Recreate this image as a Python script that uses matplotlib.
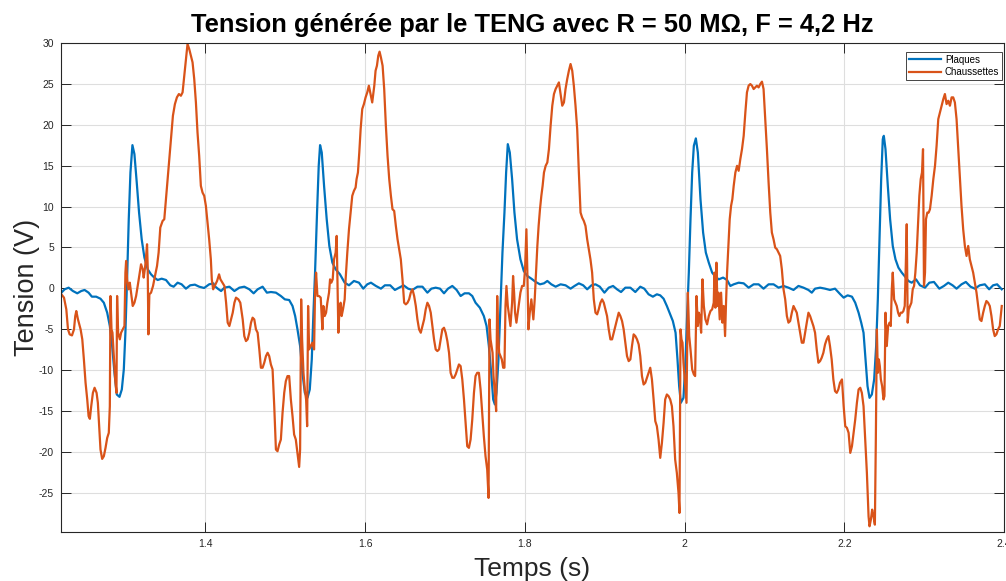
import numpy as np
import matplotlib.pyplot as plt

# (time in s, voltage in V)
plaques = [
    (1.2195, -0.53), (1.2236, -0.12), (1.2286, 0.08), (1.2340, -0.33), (1.2394, -0.61),
    (1.2444, -0.33), (1.2486, -0.20), (1.2536, -0.53), (1.2577, -1.02), (1.2631, -1.02),
    (1.2685, -1.27), (1.2727, -1.76), (1.2769, -2.98), (1.2802, -4.61), (1.2831, -7.06),
    (1.2860, -10.33), (1.2889, -12.98), (1.2923, -13.27), (1.2952, -12.37), (1.2977, -9.92),
    (1.2997, -5.43), (1.3018, 1.10), (1.3039, 8.45), (1.3060, 14.16), (1.3085, 17.51),
    (1.3110, 16.41), (1.3139, 12.94), (1.3168, 9.27), (1.3201, 6.00), (1.3235, 3.76),
    (1.3276, 2.33), (1.3318, 1.71), (1.3359, 1.31), (1.3401, 1.02), (1.3451, 1.18),
    (1.3505, 1.02), (1.3559, 0.37), (1.3601, 0.20), (1.3651, 0.69), (1.3701, 0.49),
    (1.3755, -0.04), (1.3809, 0.37), (1.3867, 0.45), (1.3921, 0.20), (1.3983, 0.04),
    (1.4046, 0.49), (1.4100, 0.61),
    (1.4112, 0.29), (1.4154, -0.04), (1.4195, -0.33), (1.4237, 0.08), (1.4299, 0.20),
    (1.4362, -0.33), (1.4424, 0.08), (1.4486, 0.20), (1.4549, -0.12), (1.4603, -0.61),
    (1.4653, -0.12), (1.4715, 0.20), (1.4769, -0.53), (1.4819, -0.45), (1.4882, -0.53),
    (1.4944, -0.94), (1.4994, -1.35), (1.5048, -1.43), (1.5090, -2.16), (1.5123, -3.39),
    (1.5152, -5.02), (1.5185, -7.06), (1.5214, -10.33), (1.5244, -12.78), (1.5277, -13.39),
    (1.5306, -12.37), (1.5331, -8.69), (1.5352, -2.98), (1.5372, 1.92), (1.5397, 9.27),
    (1.5418, 14.98), (1.5435, 17.51), (1.5456, 16.61), (1.5485, 12.53), (1.5518, 8.45),
    (1.5551, 5.18), (1.5589, 3.14), (1.5630, 2.33), (1.5684, 1.71), (1.5743, 0.69),
    (1.5797, 0.37), (1.5859, 0.90), (1.5922, 0.69), (1.5976, -0.04), (1.6026, 0.49),
    (1.6072, 0.69), (1.6134, 0.29), (1.6197, -0.04), (1.6247, 0.37), (1.6313, 0.37),
    (1.6372, -0.20), (1.6426, 0.08), (1.6480, 0.37), (1.6538, -0.04), (1.6592, -0.20),
    (1.6654, 0.20), (1.6717, 0.20), (1.6779, -0.53), (1.6829, -0.04), (1.6883, 0.08),
    (1.6937, -0.04), (1.6987, -0.61), (1.7037, -0.04), (1.7091, 0.29), (1.7145, -0.20),
    (1.7195, -0.94), (1.7245, -0.61), (1.7299, -0.61), (1.7341, -0.94), (1.7382, -1.76),
    (1.7436, -2.37), (1.7486, -3.39), (1.7520, -4.61), (1.7549, -7.06), (1.7578, -10.33),
    (1.7603, -13.59), (1.7624, -14.20), (1.7644, -12.78), (1.7669, -8.69), (1.7694, -2.16),
    (1.7719, 4.37), (1.7744, 9.27), (1.7765, 14.16), (1.7786, 17.63), (1.7811, 16.61),
    (1.7840, 13.35), (1.7869, 9.27), (1.7902, 6.00), (1.7944, 3.55), (1.7986, 2.12),
    (1.8031, 1.51), (1.8081, 1.18), (1.8135, 0.78), (1.8189, 0.49), (1.8239, 0.61),
    (1.8281, 0.90), (1.8331, 0.49), (1.8385, 0.20), (1.8447, 0.49), (1.8509, 0.37),
    (1.8572, -0.04), (1.8622, 0.29), (1.8676, 0.61), (1.8730, 0.37), (1.8780, -0.12),
    (1.8834, 0.37), (1.8884, 0.49), (1.8938, 0.20), (1.8996, -0.53), (1.9050, 0.08),
    (1.9104, 0.29), (1.9154, -0.12), (1.9204, -0.45), (1.9258, 0.08), (1.9321, 0.08),
    (1.9383, -0.45), (1.9445, 0.20), (1.9495, -0.04), (1.9549, -0.73), (1.9603, -1.02),
    (1.9653, -0.73), (1.9695, -0.86), (1.9737, -1.27), (1.9778, -2.16), (1.9820, -3.18),
    (1.9853, -4.00), (1.9887, -5.43), (1.9911, -8.69), (1.9932, -11.96), (1.9953, -14.00),
    (1.9986, -13.39),
    (2.0012, -8.69), (2.0033, -2.98), (2.0053, 1.92), (2.0074, 8.45), (2.0095, 14.16),
    (2.0116, 17.43), (2.0141, 18.33), (2.0166, 16.61), (2.0199, 10.90), (2.0232, 6.82),
    (2.0266, 4.37), (2.0303, 3.14), (2.0345, 1.92), (2.0386, 1.43), (2.0428, 1.10),
    (2.0482, 1.31), (2.0532, 1.02), (2.0573, 0.29), (2.0615, 0.49), (2.0677, 0.69),
    (2.0740, 0.61), (2.0802, 0.08), (2.0865, 0.49), (2.0927, 0.49), (2.0989, -0.04),
    (2.1052, 0.49), (2.1114, 0.49), (2.1177, 0.08), (2.1239, 0.29), (2.1301, 0.08),
    (2.1364, -0.20), (2.1426, 0.29), (2.1489, 0.08), (2.1551, -0.20), (2.1593, -0.53),
    (2.1634, -0.04), (2.1697, 0.08), (2.1759, -0.04), (2.1821, -0.20), (2.1884, -0.04),
    (2.1950, -0.73), (2.1992, -1.14), (2.2042, -0.86), (2.2096, -1.02), (2.2137, -1.76),
    (2.2179, -2.98), (2.2212, -4.20), (2.2241, -5.43), (2.2266, -8.69), (2.2291, -11.96),
    (2.2316, -13.39), (2.2345, -12.98), (2.2374, -11.14), (2.2399, -7.06), (2.2420, -1.35),
    (2.2441, 6.00), (2.2462, 13.35), (2.2482, 18.24), (2.2495, 18.65), (2.2516, 17.02),
    (2.2545, 12.53), (2.2574, 8.45), (2.2607, 5.18), (2.2641, 3.55), (2.2678, 2.53),
    (2.2720, 1.92), (2.2761, 1.43), (2.2803, 0.90), (2.2844, 0.69), (2.2898, 1.10),
    (2.2948, 0.37), (2.3011, 0.08), (2.3065, 0.69), (2.3123, 0.78), (2.3190, -0.04),
    (2.3248, 0.29), (2.3302, 0.69), (2.3356, 0.37), (2.3406, -0.04), (2.3468, 0.49),
    (2.3522, 0.78), (2.3581, 0.20), (2.3635, -0.04), (2.3697, 0.37), (2.3760, 0.49),
    (2.3814, -0.12), (2.3864, 0.37), (2.3914, 0.49), (2.3972, -0.12),
]

chaussettes = [
    (1.2195, -0.73), (1.2228, -1.14), (1.2257, -2.57), (1.2278, -5.02), (1.2299, -5.63),
    (1.2328, -5.76), (1.2353, -5.02), (1.2369, -3.39), (1.2382, -2.78), (1.2403, -3.80),
    (1.2436, -5.02), (1.2457, -6.24), (1.2477, -8.69), (1.2498, -11.55), (1.2519, -13.59),
    (1.2536, -15.63), (1.2552, -15.96), (1.2569, -14.41), (1.2590, -12.78), (1.2611, -12.16),
    (1.2636, -12.78), (1.2652, -14.00), (1.2669, -16.86), (1.2685, -19.71), (1.2706, -20.86),
    (1.2727, -20.53), (1.2748, -19.51), (1.2769, -18.29), (1.2789, -17.67), (1.2802, -14.41),
    (1.2810, -0.94), (1.2823, -5.02), (1.2835, -5.43), (1.2852, -8.29), (1.2869, -11.14),
    (1.2885, -12.78), (1.2893, -0.94), (1.2906, -5.43), (1.2927, -6.24), (1.2943, -5.43),
    (1.2964, -5.02), (1.2985, -4.61), (1.2997, 1.92), (1.3006, 3.35), (1.3018, 1.10),
    (1.3035, -0.12), (1.3052, 0.69), (1.3068, -0.53), (1.3089, -2.16), (1.3110, -1.76),
    (1.3131, -0.94), (1.3151, 0.29), (1.3176, 1.92), (1.3193, 2.94), (1.3214, 2.33),
    (1.3226, 1.31), (1.3243, 2.53), (1.3260, 4.37), (1.3268, 5.39), (1.3276, 2.73),
    (1.3285, -5.63), (1.3297, -0.73), (1.3318, -0.53), (1.3343, 0.29), (1.3359, 1.10),
    (1.3376, 1.92), (1.3393, 2.73), (1.3413, 4.37), (1.3434, 7.43), (1.3463, 8.24),
    (1.3484, 8.45), (1.3505, 10.90), (1.3526, 13.35), (1.3551, 16.20), (1.3567, 18.24),
    (1.3592, 21.10), (1.3617, 22.53), (1.3642, 23.35), (1.3667, 23.76), (1.3692, 23.55),
    (1.3713, 23.96), (1.3734, 26.00), (1.3755, 28.04), (1.3775, 29.88), (1.3796, 29.27),
    (1.3817, 28.45), (1.3838, 27.63), (1.3859, 25.59), (1.3880, 22.73), (1.3900, 19.06),
    (1.3921, 16.20), (1.3942, 12.53), (1.3963, 11.71), (1.3984, 11.31), (1.4005, 10.08),
    (1.4025, 8.04), (1.4046, 6.00), (1.4067, 3.55), (1.4079, 1.10), (1.4096, -0.12),
    (1.4145, 0.90), (1.4170, 1.71), (1.4187, 1.10), (1.4212, 0.69), (1.4237, 0.29),
    (1.4258, -1.76), (1.4278, -4.20), (1.4299, -4.61), (1.4320, -3.80), (1.4341, -2.98),
    (1.4362, -1.76), (1.4382, -1.14), (1.4412, -1.35), (1.4436, -1.76), (1.4466, -3.80),
    (1.4486, -5.84), (1.4507, -6.45), (1.4528, -6.24), (1.4549, -5.43), (1.4570, -4.20),
    (1.4590, -3.59), (1.4611, -3.80), (1.4632, -5.02), (1.4653, -5.43), (1.4674, -7.47),
    (1.4694, -9.71), (1.4715, -9.71), (1.4736, -9.10), (1.4757, -8.29), (1.4778, -7.88),
    (1.4798, -8.29), (1.4819, -9.31), (1.4840, -9.92), (1.4861, -14.41), (1.4882, -19.71),
    (1.4902, -19.92), (1.4923, -19.10), (1.4944, -18.49), (1.4965, -15.22), (1.4986, -12.78),
    (1.5006, -11.35), (1.5027, -10.73), (1.5048, -10.73), (1.5069, -13.59), (1.5090, -15.63),
    (1.5110, -17.88), (1.5131, -18.49), (1.5152, -20.12), (1.5173, -21.84), (1.5185, -19.71),
    (1.5198, -1.35), (1.5210, -6.24), (1.5227, -10.33), (1.5244, -12.37), (1.5260, -13.59),
    (1.5273, -16.86), (1.5285, -2.16), (1.5298, -7.47), (1.5318, -7.06), (1.5339, -6.65),
    (1.5360, -7.47), (1.5372, -0.53), (1.5385, 1.92), (1.5402, -0.94), (1.5422, -0.94),
    (1.5443, -1.14), (1.5464, -5.02), (1.5476, -2.16), (1.5493, -3.39), (1.5510, -2.98),
    (1.5526, -1.76), (1.5547, -0.53), (1.5560, 1.10), (1.5576, 0.69), (1.5593, 1.10),
    (1.5610, 3.55), (1.5630, 4.37), (1.5643, 6.41), (1.5651, 1.92), (1.5664, -5.43),
    (1.5680, -2.16), (1.5693, -1.76), (1.5705, -3.39), (1.5722, -2.57), (1.5743, -1.35),
    (1.5755, 1.10), (1.5776, 4.37), (1.5797, 7.22), (1.5818, 9.27), (1.5838, 11.31),
    (1.5859, 11.92), (1.5880, 12.33), (1.5892, 13.35), (1.5909, 14.16), (1.5926, 16.61),
    (1.5943, 19.47), (1.5963, 21.92), (1.5984, 22.53), (1.6005, 23.35), (1.6026, 23.96),
    (1.6046, 24.78), (1.6067, 23.76), (1.6088, 22.73),
    (1.6114, 24.78), (1.6130, 26.61), (1.6147, 27.22), (1.6164, 28.45), (1.6180, 28.94),
    (1.6197, 28.24), (1.6218, 27.22), (1.6238, 24.37), (1.6259, 19.88), (1.6280, 16.20),
    (1.6301, 13.35), (1.6322, 11.31), (1.6342, 9.67), (1.6363, 9.47), (1.6384, 7.63),
    (1.6405, 6.00), (1.6426, 4.78), (1.6446, 3.55), (1.6467, 1.10), (1.6488, -1.76),
    (1.6509, -1.96), (1.6530, -1.76), (1.6550, -1.35), (1.6571, -0.53), (1.6592, -0.12),
    (1.6613, -0.94), (1.6634, -2.16), (1.6654, -3.80), (1.6675, -5.02), (1.6696, -5.43),
    (1.6717, -4.61), (1.6738, -3.80), (1.6758, -2.57), (1.6779, -1.76), (1.6800, -2.16),
    (1.6821, -2.98), (1.6842, -4.61), (1.6862, -6.24), (1.6883, -7.47), (1.6904, -7.67),
    (1.6925, -7.47), (1.6946, -6.24), (1.6966, -5.02), (1.6987, -4.82), (1.7008, -5.43),
    (1.7029, -6.45), (1.7050, -7.88), (1.7070, -10.33), (1.7091, -10.94), (1.7112, -10.94),
    (1.7133, -10.53), (1.7154, -9.92), (1.7174, -9.31), (1.7195, -9.51), (1.7216, -11.14),
    (1.7237, -13.59), (1.7258, -16.45), (1.7278, -19.31), (1.7299, -19.51), (1.7320, -18.49),
    (1.7341, -16.04), (1.7362, -12.78), (1.7382, -10.73), (1.7403, -10.33), (1.7424, -10.33),
    (1.7445, -12.37), (1.7466, -15.22), (1.7486, -18.08), (1.7507, -20.53), (1.7528, -22.16),
    (1.7545, -25.63), (1.7557, -3.80), (1.7570, -6.24), (1.7582, -7.06), (1.7595, -7.88),
    (1.7607, -10.73), (1.7624, -12.78), (1.7640, -15.02), (1.7653, -0.94), (1.7665, -5.43),
    (1.7678, -7.88), (1.7694, -8.29), (1.7711, -8.69), (1.7728, -9.71), (1.7744, -9.71),
    (1.7757, -2.16), (1.7769, 0.29), (1.7786, -2.16), (1.7803, -3.39), (1.7819, -4.61),
    (1.7840, -1.76), (1.7852, 1.51), (1.7865, -0.53), (1.7877, -2.98), (1.7894, -4.20),
    (1.7911, -2.98), (1.7927, -1.76), (1.7944, -0.53), (1.7965, 0.29), (1.7986, 0.29),
    (1.8002, 2.33), (1.8019, 7.22), (1.8031, 1.92), (1.8044, -5.02), (1.8061, -2.98),
    (1.8081, -1.35),
    (1.8089, -2.16), (1.8106, -3.80), (1.8123, -1.35), (1.8139, 1.92), (1.8156, 5.18),
    (1.8172, 7.63), (1.8189, 9.67), (1.8206, 11.31), (1.8222, 12.53), (1.8239, 14.16),
    (1.8260, 14.98), (1.8281, 15.39), (1.8301, 17.02), (1.8322, 19.88), (1.8343, 22.33),
    (1.8364, 23.76), (1.8385, 24.37), (1.8405, 24.78), (1.8426, 25.18), (1.8447, 23.76),
    (1.8468, 22.33), (1.8489, 22.73), (1.8509, 24.37), (1.8530, 25.59), (1.8551, 26.61),
    (1.8572, 27.43), (1.8593, 26.61), (1.8613, 24.78), (1.8634, 22.33), (1.8655, 19.47),
    (1.8676, 14.16), (1.8697, 9.27), (1.8717, 8.65), (1.8738, 8.24), (1.8759, 7.63),
    (1.8780, 6.00), (1.8801, 4.78), (1.8821, 3.55), (1.8842, 1.92), (1.8863, -1.35),
    (1.8884, -2.98), (1.8905, -3.18), (1.8925, -2.57), (1.8946, -1.76), (1.8967, -1.35),
    (1.8988, -1.76), (1.9009, -2.57), (1.9029, -3.39), (1.9050, -5.02), (1.9071, -6.24),
    (1.9092, -6.24), (1.9113, -5.43), (1.9133, -4.61), (1.9154, -3.80), (1.9175, -2.98),
    (1.9196, -3.39), (1.9217, -4.00), (1.9237, -5.02), (1.9258, -6.65), (1.9279, -8.29),
    (1.9300, -8.90), (1.9321, -8.69), (1.9341, -7.06), (1.9362, -5.63), (1.9383, -5.84),
    (1.9404, -6.24), (1.9425, -6.86), (1.9445, -8.29), (1.9466, -10.73), (1.9487, -11.76),
    (1.9508, -11.55), (1.9529, -10.94), (1.9549, -10.33), (1.9570, -9.71), (1.9591, -11.14),
    (1.9612, -13.59), (1.9633, -16.24), (1.9653, -16.86), (1.9674, -18.49), (1.9695, -20.73),
    (1.9716, -18.90), (1.9737, -16.45), (1.9757, -13.59), (1.9778, -12.98), (1.9799, -13.18),
    (1.9820, -13.59), (1.9841, -14.41), (1.9861, -16.86), (1.9882, -20.94), (1.9903, -22.57),
    (1.9924, -25.02), (1.9936, -27.47), (1.9949, -5.02), (1.9961, -6.24), (1.9974, -6.65),
    (1.9986, -9.10),
    (2.0024, -14.00), (2.0041, -0.53), (2.0058, -5.84), (2.0074, -7.47), (2.0095, -9.92),
    (2.0116, -10.53), (2.0132, -10.73), (2.0149, -0.94), (2.0166, -4.61), (2.0178, -2.98),
    (2.0191, -3.39), (2.0207, -5.43), (2.0224, 1.10), (2.0241, -2.16), (2.0261, -3.80),
    (2.0282, -4.41), (2.0303, -3.39), (2.0324, -2.78), (2.0345, -2.57), (2.0365, -1.76),
    (2.0374, 1.92), (2.0386, -2.37), (2.0399, 3.14), (2.0411, -2.16), (2.0424, -0.53),
    (2.0440, -3.80), (2.0457, -0.53), (2.0474, -4.20), (2.0490, -2.16), (2.0507, -5.84),
    (2.0519, -1.76), (2.0532, 1.92), (2.0549, 5.18), (2.0565, 8.45), (2.0582, 10.08),
    (2.0598, 10.90), (2.0615, 12.53), (2.0636, 14.16), (2.0657, 14.98), (2.0677, 14.37),
    (2.0698, 15.80), (2.0719, 17.02), (2.0740, 18.65), (2.0761, 21.51), (2.0781, 23.96),
    (2.0802, 24.78), (2.0823, 24.98), (2.0844, 24.78), (2.0865, 24.37), (2.0885, 24.57),
    (2.0906, 24.78), (2.0927, 24.57), (2.0948, 24.98), (2.0969, 25.27), (2.0989, 24.37),
    (2.1010, 20.69), (2.1031, 17.02), (2.1052, 12.94), (2.1073, 9.27), (2.1093, 6.82),
    (2.1114, 6.00), (2.1135, 4.98), (2.1156, 4.78), (2.1177, 4.37), (2.1197, 3.96),
    (2.1218, 2.33), (2.1239, -0.12), (2.1260, -1.35), (2.1281, -3.39), (2.1301, -4.20),
    (2.1322, -4.00), (2.1343, -2.98), (2.1364, -2.16), (2.1385, -2.57), (2.1405, -2.98),
    (2.1426, -4.20), (2.1447, -5.43), (2.1468, -6.65), (2.1489, -6.65), (2.1509, -5.43),
    (2.1530, -4.20), (2.1551, -2.98), (2.1572, -3.39), (2.1593, -4.00), (2.1613, -4.61),
    (2.1634, -5.43), (2.1655, -7.47), (2.1676, -9.10), (2.1697, -8.90), (2.1717, -8.49),
    (2.1738, -7.88), (2.1759, -6.86), (2.1780, -6.24), (2.1801, -5.84), (2.1821, -7.06),
    (2.1842, -8.69), (2.1863, -11.14), (2.1884, -12.57), (2.1905, -12.78), (2.1925, -12.37),
    (2.1946, -11.55),
    (2.1971, -11.14), (2.1992, -14.41), (2.2012, -16.86), (2.2033, -17.06), (2.2054, -17.67),
    (2.2075, -20.12), (2.2096, -19.31), (2.2116, -17.67), (2.2137, -16.04), (2.2158, -14.00),
    (2.2179, -12.37), (2.2200, -12.16), (2.2220, -12.78), (2.2241, -14.41), (2.2262, -18.49),
    (2.2283, -22.57), (2.2304, -27.88), (2.2316, -29.10), (2.2333, -28.29), (2.2349, -27.06),
    (2.2366, -27.88), (2.2383, -28.90), (2.2395, -18.49), (2.2408, -5.02), (2.2420, -10.33),
    (2.2433, -8.69), (2.2445, -9.51), (2.2458, -11.14), (2.2474, -11.96), (2.2491, -13.59),
    (2.2503, -13.18), (2.2516, -2.98), (2.2532, -7.06), (2.2549, -4.61), (2.2566, -4.20),
    (2.2582, -4.61), (2.2595, -0.12), (2.2607, 1.92), (2.2624, -1.35), (2.2641, -1.76),
    (2.2657, -2.16), (2.2674, -2.98), (2.2690, -3.39), (2.2707, -2.98), (2.2724, -2.98),
    (2.2740, -2.78), (2.2757, -2.16), (2.2770, 2.73), (2.2782, 7.84), (2.2794, -4.20),
    (2.2807, -2.57), (2.2824, -2.16), (2.2840, -1.76), (2.2857, -0.12), (2.2874, 0.29),
    (2.2890, 1.92), (2.2907, 4.37), (2.2923, 7.63), (2.2940, 11.31), (2.2957, 13.35),
    (2.2973, 14.16), (2.2986, 17.02), (2.2998, 0.29), (2.3011, 1.92), (2.3023, 8.45),
    (2.3040, 9.27), (2.3057, 9.27), (2.3073, 9.67), (2.3094, 11.31), (2.3115, 13.35),
    (2.3136, 14.98), (2.3156, 17.43), (2.3177, 20.69), (2.3198, 21.51), (2.3219, 22.33),
    (2.3240, 23.14), (2.3260, 23.76), (2.3281, 22.53), (2.3302, 22.94), (2.3323, 22.33),
    (2.3344, 23.35), (2.3364, 23.35), (2.3385, 22.73), (2.3406, 20.69), (2.3427, 17.02),
    (2.3448, 13.35), (2.3468, 10.08), (2.3489, 7.22), (2.3510, 5.18), (2.3531, 3.96),
    (2.3552, 5.18), (2.3572, 3.55), (2.3593, 2.73), (2.3614, 1.92), (2.3635, 0.69),
    (2.3656, -0.53), (2.3676, -2.16), (2.3697, -3.80), (2.3718, -4.00), (2.3739, -2.98),
    (2.3760, -2.16), (2.3780, -1.55), (2.3801, -1.76), (2.3822, -2.16), (2.3843, -3.39),
    (2.3864, -5.02), (2.3884, -5.84), (2.3905, -5.63), (2.3926, -5.02), (2.3947, -4.61),
    (2.3972, -2.16),
]

series_names = ['Plaques', 'Chaussettes']
x_ticks = [1.4, 1.6, 1.8, 2.0, 2.2, 2.4]
x_tick_labels = ['1.4', '1.6', '1.8', '2', '2.2', '2.4']
y_ticks = [-25, -20, -15, -10, -5, 0, 5, 10, 15, 20, 25, 30]

plt.rcParams['font.family'] = ['Liberation Sans', 'DejaVu Sans']
plt.rcParams['axes.unicode_minus'] = False

fig = plt.figure(figsize=(10.06, 5.81), dpi=100)
ax = fig.add_axes([0.0606, 0.0843, 0.9374, 0.8417])

p = np.array(plaques)
c = np.array(chaussettes)
ax.plot(p[:, 0], p[:, 1], color='#0072BD', lw=1.6, label=series_names[0])
ax.plot(c[:, 0], c[:, 1], color='#D95319', lw=1.6, label=series_names[1])

ax.set_xlim(1.219, 2.4)
ax.set_ylim(-29.8, 30)
ax.set_xticks(x_ticks)
ax.set_xticklabels(x_tick_labels)
ax.set_yticks(y_ticks)
ax.grid(True, color='#dedede', lw=0.8)
ax.set_axisbelow(True)

ax.tick_params(direction='in', top=True, right=True, length=7, width=0.7,
               colors='#262626', labelsize=7.5, pad=5)
for s in ax.spines.values():
    s.set_color('#262626')
    s.set_linewidth(0.8)

ax.set_title('Tension générée par le TENG avec R = 50 MΩ, F = 4,2 Hz',
             fontsize=18.4, fontweight='bold', pad=8)
ax.set_xlabel('Temps (s)', fontsize=19, color='#262626', labelpad=6)
ax.set_ylabel('Tension (V)', fontsize=19.5, color='#262626', labelpad=-1)

leg = ax.legend(loc='upper right', bbox_to_anchor=(0.998, 0.982), borderaxespad=0,
                fontsize=7, handlelength=3.3, handletextpad=0.4, borderpad=0.3,
                labelspacing=0.25, fancybox=False, framealpha=1, edgecolor='#262626')
leg.get_frame().set_linewidth(0.6)

fig.savefig('out.png', dpi=100)
